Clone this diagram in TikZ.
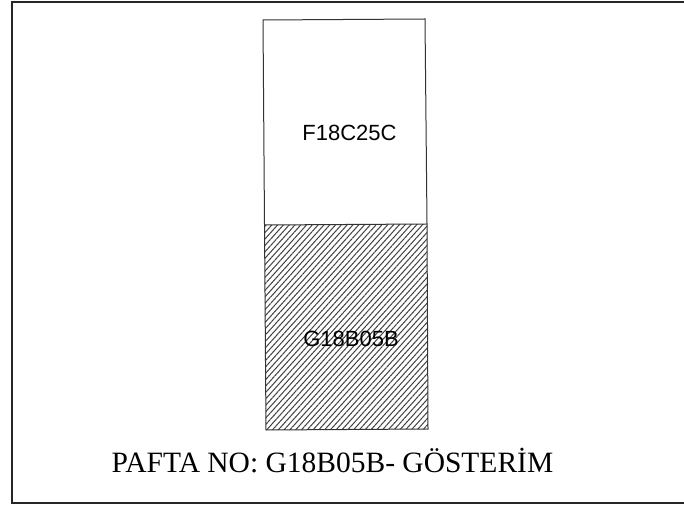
\documentclass[tikz,border=0pt]{standalone}
\usepackage{fontspec}
\setmainfont{Liberation Serif}
\newfontfamily\arialfont{Liberation Sans}
\usetikzlibrary{patterns.meta}
\begin{document}
\begin{tikzpicture}[x=1pt,y=1pt,
  sheet/.style={draw=black!80,line width=1pt},
  hatched/.style={pattern={Lines[angle=48,distance=4.3pt,line width=1pt]},pattern color=black!75},
  celllabel/.style={font=\arialfont\fontsize{22}{26}\selectfont,inner sep=0pt},
  caption/.style={font=\fontsize{29.5}{34}\selectfont,inner sep=0pt,anchor=base}]
\useasboundingbox (0,0) rectangle (684,514);
% outer frame (open on the right)
\draw[black!85,line width=2pt] (690,512.3) -- (11.5,512.3) -- (11.5,11.5) -- (690,11.5);
% sheet corners
\coordinate (tl) at (263,494);
\coordinate (tr) at (425,495);
\coordinate (ml) at (264.5,289);
\coordinate (mr) at (427,290);
\coordinate (bl) at (266,84);
\coordinate (br) at (428,85);
\fill[hatched] (ml) -- (mr) -- (br) -- (bl) -- cycle;
\draw[sheet] (tl) -- (tr) -- (mr) -- (br) -- (bl) -- (ml) -- cycle;
\draw[sheet] (ml) -- (mr);
\node[celllabel] (f) at (349.5,381) {F18C25C};
\node[celllabel] (g) at (351,175) {G18B05B};
\node[caption] (cap) at (332.5,42) {PAFTA NO: G18B05B- GÖSTERİM};
\end{tikzpicture}
\end{document}
